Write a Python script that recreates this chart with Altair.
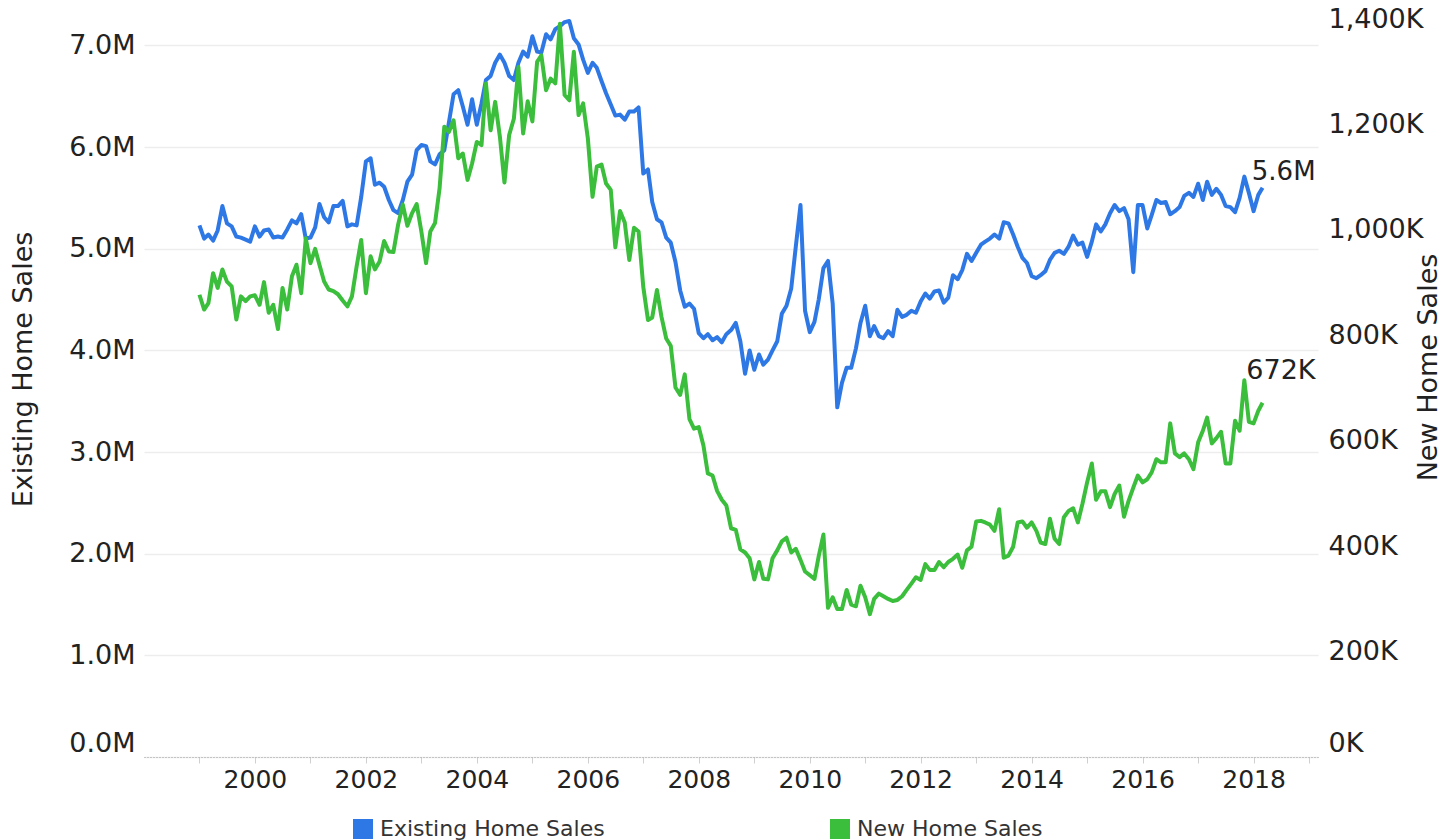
import altair as alt
import pandas as pd

# ---- data (monthly, Jan 1999 .. Mar 2018) ----
start_year = 1999
existing_home_sales_m = [
    5.23, 5.10, 5.14, 5.08, 5.18, 5.42, 5.25, 5.22, 5.12, 5.11, 5.09, 5.07,  # 1999
    5.22, 5.12, 5.18, 5.19, 5.11, 5.12, 5.11, 5.19, 5.28, 5.25, 5.34, 5.10,  # 2000
    5.11, 5.21, 5.44, 5.31, 5.26, 5.42, 5.42, 5.47, 5.22, 5.24, 5.23, 5.51,  # 2001
    5.86, 5.89, 5.63, 5.65, 5.61, 5.48, 5.38, 5.35, 5.48, 5.66, 5.73, 5.97,  # 2002
    6.02, 6.01, 5.86, 5.83, 5.93, 5.97, 6.24, 6.52, 6.56, 6.40, 6.22, 6.47,  # 2003
    6.22, 6.43, 6.66, 6.70, 6.83, 6.91, 6.83, 6.70, 6.66, 6.83, 6.94, 6.89,  # 2004
    7.09, 6.94, 6.93, 7.11, 7.06, 7.16, 7.19, 7.23, 7.24, 7.07, 7.01, 6.86,  # 2005
    6.73, 6.83, 6.78, 6.65, 6.53, 6.42, 6.31, 6.32, 6.27, 6.35, 6.35, 6.39,  # 2006
    5.74, 5.78, 5.46, 5.29, 5.26, 5.11, 5.06, 4.87, 4.59, 4.43, 4.46, 4.41,  # 2007
    4.17, 4.12, 4.16, 4.10, 4.13, 4.08, 4.16, 4.20, 4.27, 4.09, 3.77, 4.00,  # 2008
    3.81, 3.96, 3.86, 3.91, 4.00, 4.09, 4.36, 4.44, 4.61, 5.02, 5.43, 4.39,  # 2009
    4.18, 4.28, 4.50, 4.81, 4.88, 4.46, 3.44, 3.68, 3.83, 3.83, 4.02, 4.27,  # 2010
    4.44, 4.14, 4.24, 4.14, 4.12, 4.19, 4.14, 4.40, 4.33, 4.35, 4.39, 4.37,  # 2011
    4.48, 4.56, 4.51, 4.58, 4.59, 4.47, 4.52, 4.74, 4.70, 4.79, 4.95, 4.88,  # 2012
    4.96, 5.04, 5.07, 5.10, 5.14, 5.10, 5.26, 5.25, 5.14, 5.02, 4.91, 4.86,  # 2013
    4.73, 4.71, 4.74, 4.78, 4.89, 4.96, 4.98, 4.95, 5.02, 5.13, 5.04, 5.06,  # 2014
    4.92, 5.07, 5.24, 5.17, 5.24, 5.35, 5.43, 5.37, 5.40, 5.29, 4.77, 5.43,  # 2015
    5.43, 5.20, 5.33, 5.48, 5.45, 5.46, 5.34, 5.37, 5.41, 5.52, 5.55, 5.51,  # 2016
    5.64, 5.48, 5.66, 5.53, 5.59, 5.53, 5.42, 5.41, 5.36, 5.50, 5.71, 5.55,  # 2017
    5.37, 5.53, 5.60,                                                        # 2018
]
new_home_sales_k = [
    877, 849, 861, 918, 890, 925, 902, 893, 830, 874, 865, 874,          # 1999
    876, 858, 901, 843, 858, 812, 890, 849, 912, 934, 880, 984,          # 2000
    937, 964, 934, 902, 887, 884, 878, 866, 855, 874, 931, 981,          # 2001
    880, 950, 925, 940, 979, 959, 958, 1010, 1048, 1008, 1032, 1049,     # 2002
    997, 937, 997, 1013, 1079, 1196, 1186, 1208, 1136, 1145, 1095, 1126, # 2003
    1167, 1161, 1278, 1189, 1243, 1177, 1090, 1180, 1211, 1309, 1183, 1244,  # 2004
    1206, 1319, 1331, 1265, 1287, 1278, 1391, 1256, 1246, 1338, 1218, 1240,  # 2005
    1174, 1063, 1120, 1124, 1088, 1076, 967, 1036, 1014, 943, 1004, 997,     # 2006
    892, 829, 834, 886, 835, 794, 780, 701, 687, 726, 641, 623,          # 2007
    626, 591, 538, 534, 505, 488, 477, 434, 431, 394, 388, 377,          # 2008
    337, 370, 338, 337, 377, 392, 409, 416, 388, 395, 374, 352,          # 2009
    345, 338, 381, 422, 283, 303, 281, 281, 317, 289, 286, 325,          # 2010
    303, 271, 300, 310, 305, 300, 296, 298, 305, 317, 329, 341,          # 2011
    336, 366, 355, 355, 370, 360, 370, 376, 384, 359, 392, 399,          # 2012
    447, 448, 445, 441, 429, 470, 378, 382, 399, 445, 447, 435,          # 2013
    445, 429, 407, 404, 452, 414, 404, 455, 467, 472, 445, 480,          # 2014
    521, 557, 488, 504, 504, 474, 499, 515, 456, 486, 511, 534,          # 2015
    521, 527, 540, 565, 559, 559, 633, 576, 569, 576, 565, 546,          # 2016
    597, 619, 644, 595, 605, 617, 557, 557, 638, 619, 715, 636,          # 2017
    633, 657, 672,                                                       # 2018
]
series_names = ["Existing Home Sales", "New Home Sales"]
series_colors = ["#2E78E6", "#3BBE3B"]
left_ticks = [0, 1e6, 2e6, 3e6, 4e6, 5e6, 6e6, 7e6]
right_ticks = [0, 2e5, 4e5, 6e5, 8e5, 1e6, 1.2e6, 1.4e6]
year_ticks = list(range(1999, 2020))

FONT = "DejaVu Sans"
TXT = "#222222"

# ---- tables ----
dates = [f"{start_year + i // 12}-{i % 12 + 1:02d}-01T00:00:00" for i in range(len(existing_home_sales_m))]
df = pd.DataFrame(
    [{"date": d, "series": series_names[0], "value": v * 1e6} for d, v in zip(dates, existing_home_sales_m)]
    + [{"date": d, "series": series_names[1], "value": v * 1e3} for d, v in zip(dates, new_home_sales_k)]
)
last_blue = pd.DataFrame([{"date": dates[-1], "value": existing_home_sales_m[-1] * 1e6,
                           "label": f"{existing_home_sales_m[-1]:.1f}M"}])
last_green = pd.DataFrame([{"date": dates[-1], "value": new_home_sales_k[-1] * 1e3,
                            "label": f"{new_home_sales_k[-1]:.0f}K"}])

x_scale = alt.Scale(domain=[alt.DateTime(year=1998, month=1, date=1),
                            alt.DateTime(year=2019, month=3, date=1)])
x_axis = alt.Axis(
    values=[alt.DateTime(year=y, month=1, date=1) for y in year_ticks],
    labelExpr="year(datum.value) % 2 === 0 ? timeFormat(datum.value, '%Y') : ''",
    labelOverlap=False, labelFlush=False, grid=False,
    domainColor="#9a9a9a", domainDash=[1, 2], domainWidth=1,
    tickColor="#d0d0d0", tickSize=6, tickWidth=1,
    labelFont=FONT, labelFontSize=25, labelColor=TXT, labelPadding=4,
    zindex=1,
)
x_enc = alt.X("date:T", scale=x_scale, axis=x_axis, title=None)

color_enc = alt.Color(
    "series:N",
    scale=alt.Scale(domain=series_names, range=series_colors),
    legend=alt.Legend(
        title=None, orient="none", legendX=208, legendY=801, direction="horizontal",
        symbolType="square", symbolSize=100, symbolStrokeWidth=10,
        labelFont=FONT, labelFontSize=22, labelColor="#333333", labelOffset=6,
        labelLimit=500, columnPadding=210, padding=0,
    ),
)

left_axis = alt.Axis(
    orient="left", values=left_ticks,
    labelExpr="format(datum.value / 1000000, '.1f') + 'M'",
    grid=True, gridColor="#ededed", gridWidth=1.5,
    domain=False, ticks=False,
    labelFont=FONT, labelFontSize=27, labelColor=TXT, labelPadding=9,
    labelFlush=1,
    title="Existing Home Sales", titleFont=FONT, titleFontSize=27, titleFontWeight="normal",
    titleColor=TXT, titleAngle=270, titleAlign="center", titleBaseline="middle",
    titleX=-121, titleY=352,
)
right_axis = alt.Axis(
    orient="right", values=right_ticks,
    labelExpr="format(datum.value / 1000, ',') + 'K'",
    grid=False, domain=False, ticks=False,
    labelFont=FONT, labelFontSize=27, labelColor=TXT, labelPadding=10,
    labelFlush=1,
    title="New Home Sales", titleFont=FONT, titleFontSize=27, titleFontWeight="normal",
    titleColor=TXT, titleAngle=270, titleAlign="center", titleBaseline="middle",
    titleX=110, titleY=350,
)

blue_line = alt.Chart(df).transform_filter(alt.datum.series == series_names[0]).mark_line(
    strokeWidth=4, strokeJoin="round").encode(
    x=x_enc,
    y=alt.Y("value:Q", scale=alt.Scale(domain=[0, 7.28e6], nice=False, zero=True), axis=left_axis),
    color=color_enc,
)
blue_text = alt.Chart(last_blue).mark_text(
    align="right", baseline="alphabetic", dx=53, dy=-8, font=FONT, fontSize=26, color=TXT).encode(
    x=alt.X("date:T", scale=x_scale, axis=x_axis, title=None),
    y=alt.Y("value:Q", axis=left_axis),
    text="label:N")

green_line = alt.Chart(df).transform_filter(alt.datum.series == series_names[1]).mark_line(
    strokeWidth=4, strokeJoin="round").encode(
    x=x_enc,
    y=alt.Y("value:Q", scale=alt.Scale(domain=[0, 1.404e6], nice=False, zero=True), axis=right_axis),
    color=color_enc,
)
green_text = alt.Chart(last_green).mark_text(
    align="right", baseline="alphabetic", dx=53, dy=-24, font=FONT, fontSize=27, color=TXT).encode(
    x=alt.X("date:T", scale=x_scale, axis=x_axis, title=None),
    y=alt.Y("value:Q", axis=right_axis),
    text="label:N")

chart = alt.layer(
    alt.layer(blue_line, blue_text),
    alt.layer(green_line, green_text),
).resolve_scale(y="independent").properties(
    width=1174, height=740,
    padding={"left": 136, "top": 9, "right": 128, "bottom": 90},
    autosize=alt.AutoSizeParams(type="none"),
).configure(font=FONT).configure_view(stroke=None)

chart.save("out.html", embed_options={"renderer": "svg", "actions": False})
